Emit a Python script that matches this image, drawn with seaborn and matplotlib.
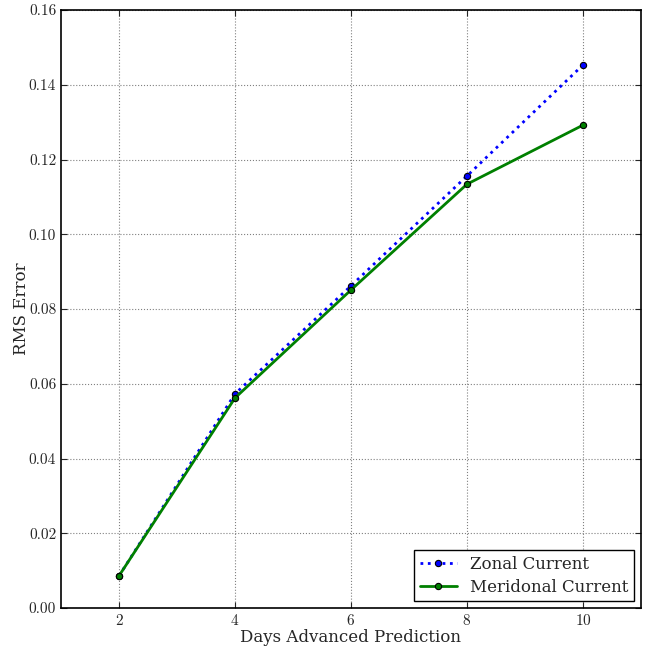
import pandas as pd
import matplotlib
matplotlib.use("Agg")
import matplotlib.pyplot as plt
import seaborn as sns

# dados
dias = [2, 4, 6, 8, 10]
zonal = [0.0086, 0.0573, 0.0862, 0.1156, 0.1453]
meridional = [0.0086, 0.0562, 0.0851, 0.1134, 0.1292]

sns.set_style("ticks")
plt.rcParams['font.family'] = ['cmr10', 'DejaVu Serif']
plt.rcParams['mathtext.fontset'] = 'cm'
plt.rcParams['axes.formatter.use_mathtext'] = True

df = pd.DataFrame({'dias': dias + dias,
                   'rms': zonal + meridional,
                   'serie': ['Zonal Current'] * 5 + ['Meridonal Current'] * 5})

fig = plt.figure(figsize=(6.55, 6.48), dpi=100)
ax = fig.add_axes([61 / 655, 40 / 648, 580 / 655, 598 / 648])

sns.lineplot(data=df[df['serie'] == 'Zonal Current'], x='dias', y='rms', ax=ax,
             color='blue', linestyle=':', linewidth=2, marker='o', markersize=4.5,
             markeredgecolor='black', markeredgewidth=0.8, label='Zonal Current')
sns.lineplot(data=df[df['serie'] == 'Meridonal Current'], x='dias', y='rms', ax=ax,
             color='green', linestyle='-', linewidth=2, marker='o', markersize=4.5,
             markeredgecolor='black', markeredgewidth=0.8, label='Meridonal Current')

ax.set_xlim(1, 11)
ax.set_ylim(0, 0.16)
ax.set_xticks([2, 4, 6, 8, 10])
ax.set_yticks([0, 0.02, 0.04, 0.06, 0.08, 0.10, 0.12, 0.14, 0.16])
ax.set_yticklabels(['0.00', '0.02', '0.04', '0.06', '0.08', '0.10', '0.12', '0.14', '0.16'])
ax.grid(True, linestyle=':', color='gray', linewidth=0.8)
ax.tick_params(direction='in', top=True, right=True, labelsize=11, length=4)
for s in ax.spines.values():
    s.set_linewidth(1.2)
    s.set_color('black')

# rotulos com fonte mais pesada, como no original
fonte_rotulo = {'family': 'DejaVu Serif', 'size': 12}
ax.set_xlabel('Days Advanced Prediction', fontdict=fonte_rotulo, labelpad=1)
ax.set_ylabel('RMS Error', fontdict=fonte_rotulo, labelpad=-1)

leg = ax.legend(loc='lower right', prop={'family': 'DejaVu Serif', 'size': 12},
                fancybox=False, framealpha=1, edgecolor='black', borderaxespad=0.4,
                handlelength=2.2, borderpad=0.35, labelspacing=0.35)
leg.get_frame().set_linewidth(1.0)

fig.savefig('out.png', dpi=100)
